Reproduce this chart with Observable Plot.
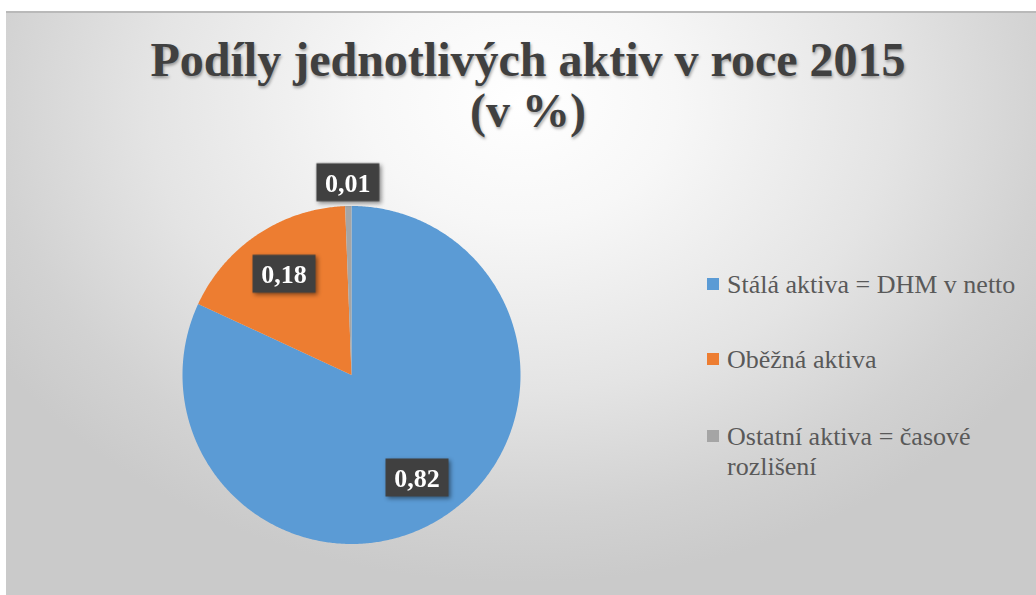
<!DOCTYPE html>
<html>
<head>
<meta charset="utf-8">
<script src="https://cdn.jsdelivr.net/npm/d3@7"></script>
<script src="https://cdn.jsdelivr.net/npm/@observablehq/plot@0.6"></script>
<style>
  html, body { margin: 0; padding: 0; background: #ffffff; }
  #rkwrap { position: relative; width: 1036px; height: 595px; overflow: hidden; background: #fff; font-family: 'Liberation Serif', 'Times New Roman', serif; }
  #rkbg {
    position: absolute; left: 6px; top: 11px; width: 1030px; height: 584px;
    background: radial-gradient(ellipse 620px 480px at 515px 90px, #ffffff 0%, #f7f7f7 25%, #e4e4e4 60%, #d2d2d2 85%, #cacaca 100%);
    border-top: 2px solid #b9b9b9;
    box-sizing: border-box;
  }
  #rkhead {
    position: absolute; left: 6px; width: 1044px; top: 34px; text-align: center;
    font-family: 'Liberation Serif', 'Times New Roman', serif; font-weight: bold;
    font-size: 48px; line-height: 51px; color: #404040;
    text-shadow: 1px 2px 3px rgba(0,0,0,0.35);
  }
  #rkplot { position: absolute; left: 0; top: 150px; }
  #rkkey { position: absolute; left: 707px; top: 0; font-family: 'Liberation Serif', 'Times New Roman', serif; font-size: 26px; color: #595959; }
  .rkitem { position: absolute; left: 0; width: 330px; line-height: 30px; }
  .rksw { position: absolute; left: 0; width: 12px; height: 12px; }
  .rklbl { position: absolute; left: 20px; width: 310px; white-space: normal; }
  g[aria-label='dot'] { filter: drop-shadow(2px 2px 2px rgba(0,0,0,0.45)); }
</style>
</head>
<body>
<div id="rkwrap">
  <div id="rkbg"></div>
  <div id="rkhead">Podíly jednotlivých aktiv v roce 2015<br>(v %)</div>
  <div id="rkplot"></div>
  <div id="rkkey"></div>
</div>
<script>
// ---- data ----
const categories = ["Stálá aktiva = DHM v netto", "Oběžná aktiva", "Ostatní aktiva = časové rozlišení"];
const shares = [0.819, 0.175, 0.006];
const labels = ["0,82", "0,18", "0,01"];
const colors = ["#5B9BD5", "#ED7D31", "#A5A5A5"];

// ---- build slice outlines (unit circle, angle clockwise from 12 o'clock) ----
const total = d3.sum(shares);
const outline = [];
const labelPts = [];
let acc = 0;
categories.forEach((c, i) => {
  const a0 = acc / total * 2 * Math.PI;
  acc += shares[i];
  const a1 = acc / total * 2 * Math.PI;
  outline.push({cat: c, x: 0, y: 0});
  const n = Math.max(2, Math.ceil((a1 - a0) / (Math.PI / 360)));
  for (let k = 0; k <= n; k++) {
    const a = a0 + (a1 - a0) * k / n;
    outline.push({cat: c, x: Math.sin(a), y: Math.cos(a)});
  }
  outline.push({cat: c, x: 0, y: 0});
  const mid = (a0 + a1) / 2;
  const rr = shares[i] / total < 0.05 ? 1.14 : 0.72;
  labelPts.push({cat: c, label: labels[i], x: rr * Math.sin(mid), y: rr * Math.cos(mid)});
});

const boxSymbol = {
  draw(context) {
    context.moveTo(-31.5, -19);
    context.lineTo(31.5, -19);
    context.lineTo(31.5, 19);
    context.lineTo(-31.5, 19);
    context.closePath();
  }
};

const chart = Plot.plot({
  width: 700,
  height: 420,
  marginLeft: 182,
  marginRight: 180,
  marginTop: 55.5,
  marginBottom: 26.5,
  x: {domain: [-1, 1], axis: null},
  y: {domain: [-1, 1], axis: null},
  color: {domain: categories, range: colors},
  style: {background: "transparent", overflow: "visible", fontFamily: "'Liberation Serif', 'Times New Roman', serif"},
  marks: [
    Plot.line(outline, {x: "x", y: "y", z: "cat", fill: "cat", stroke: null, curve: "linear"}),
    Plot.dot(labelPts, {x: "x", y: "y", symbol: boxSymbol, fill: "#404040", stroke: null, r: 10}),
    Plot.text(labelPts, {x: "x", y: "y", text: "label", fill: "#ffffff", fontSize: 26, fontWeight: "bold",
      fontFamily: "'Liberation Serif', 'Times New Roman', serif", dy: 1})
  ]
});
document.getElementById("rkplot").appendChild(chart);

// ---- legend ----
const legendTops = [270, 345, 422];
const legend = d3.select("#rkkey");
categories.forEach((c, i) => {
  const item = legend.append("div").attr("class", "rkitem").style("top", legendTops[i] + "px");
  item.append("div").attr("class", "rksw").style("top", "8px").style("background", colors[i]);
  item.append("div").attr("class", "rklbl").text(c);
});
</script>
</body>
</html>
